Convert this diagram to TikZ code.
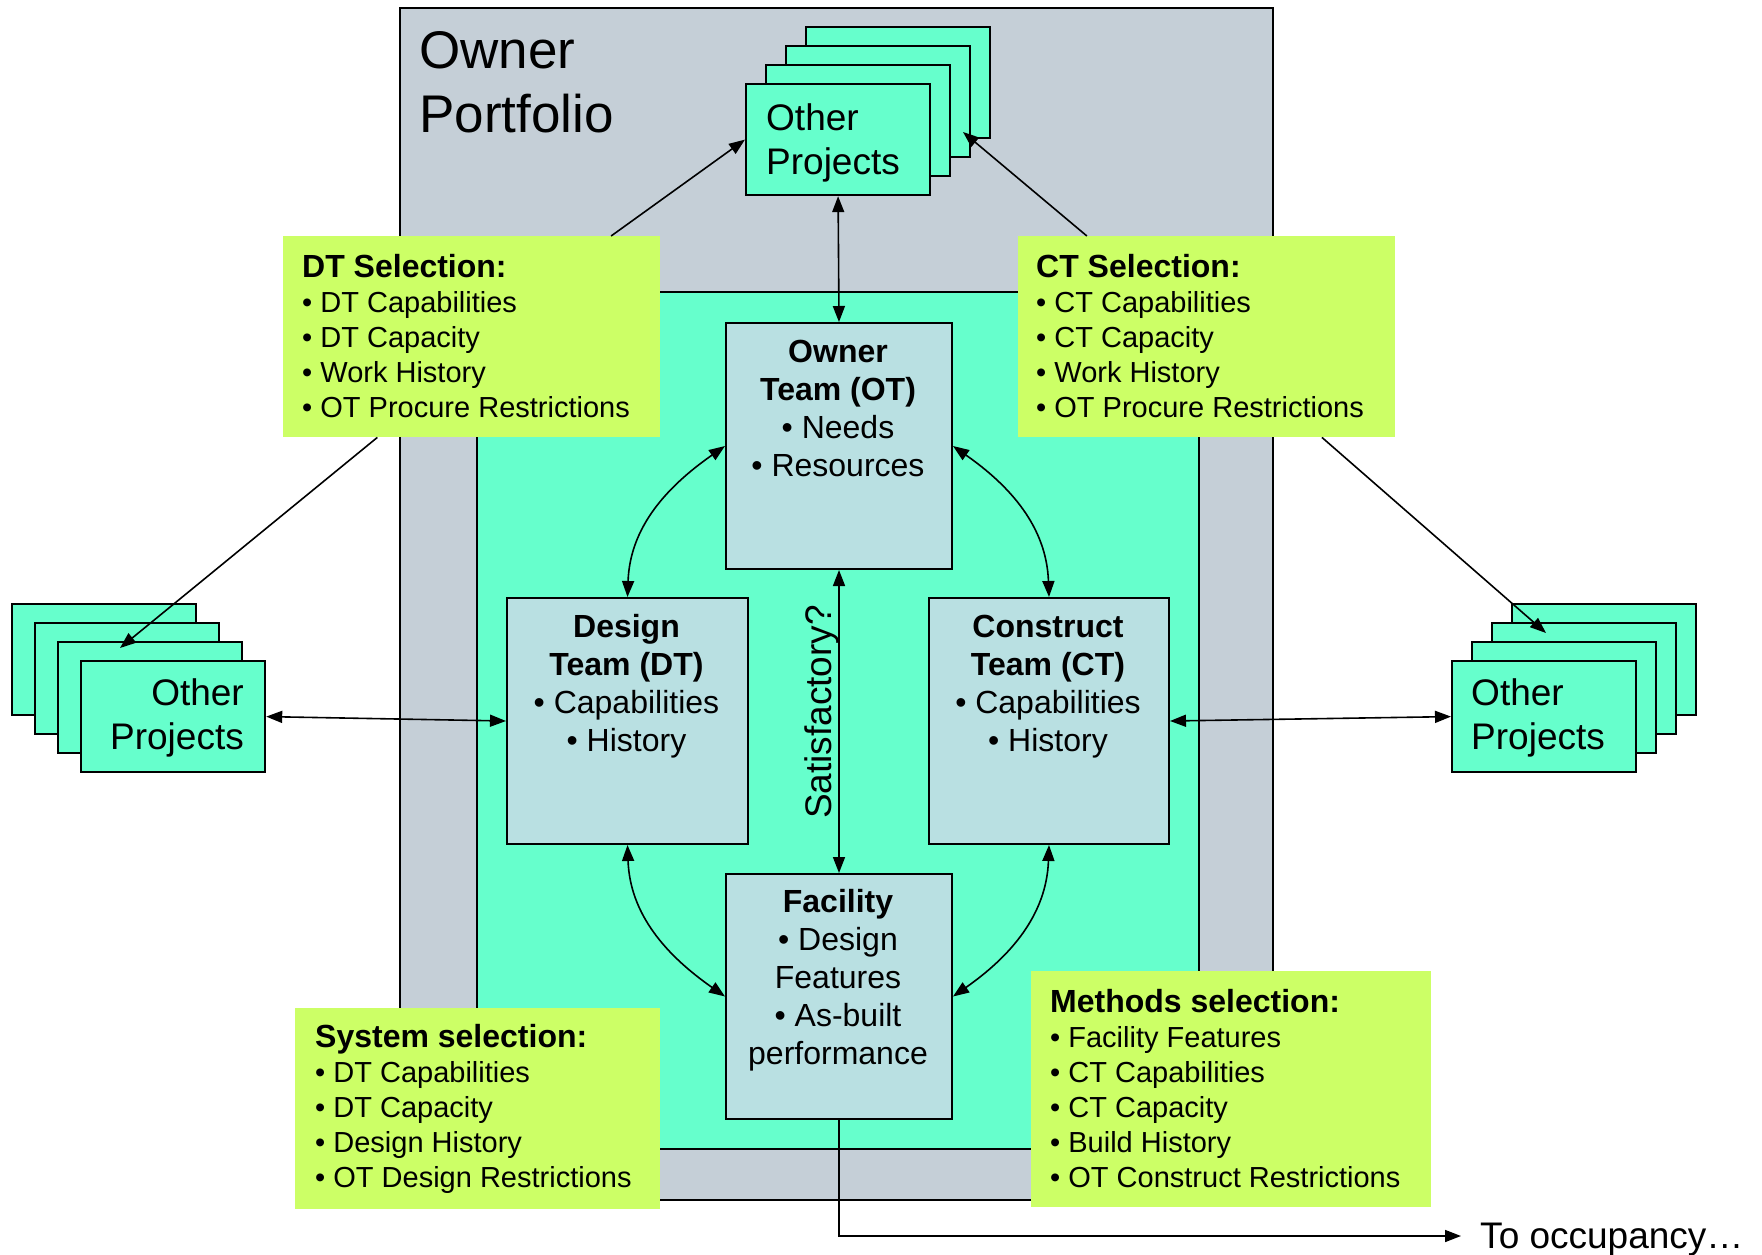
\documentclass[tikz,border=0pt]{standalone}
\usepackage{fontspec}
\setmainfont{Liberation Sans}
\usetikzlibrary{arrows.meta,calc}
\definecolor{pgray}{RGB}{197,207,215}
\definecolor{pteal}{RGB}{102,255,204}
\definecolor{pblue}{RGB}{185,224,226}
\definecolor{pyellow}{RGB}{204,255,102}
\newcommand{\seltitle}[1]{{\fontsize{32}{35}\selectfont\bfseries #1}}
\begin{document}
\begin{tikzpicture}[x=1pt,y=1pt,
  arr/.style={line width=1.6pt,-{Triangle[length=16pt,width=12pt]}},
  dbl/.style={line width=1.6pt,{Triangle[length=16pt,width=12pt]}-{Triangle[length=16pt,width=12pt]}},
  proj/.style={draw=black,line width=2.2pt,fill=pteal,minimum width=184pt,minimum height=111pt,inner sep=0pt,anchor=north west},
  team/.style={draw=black,line width=2pt,fill=pblue,minimum height=246pt,inner sep=0pt,anchor=north west},
  sel/.style={fill=pyellow,inner sep=0pt,anchor=north west},
  teamtxt/.style={inner sep=0pt,anchor=north,align=center,font=\fontsize{32}{38}\selectfont},
  seltxt/.style={inner sep=0pt,anchor=north west,align=left,font=\fontsize{29}{35}\selectfont},
  projtxt/.style={inner sep=0pt,font=\fontsize{37}{44}\selectfont},
]
\useasboundingbox (0,0) rectangle (1762,-1255);

% portfolio and project frames
\node[draw=black,line width=2pt,fill=pgray,minimum width=873pt,minimum height=1192pt,inner sep=0pt,anchor=north west] (port) at (399,-7) {};
\node[draw=black,line width=1.5pt,fill=pteal,minimum width=722pt,minimum height=857pt,inner sep=0pt,anchor=north west] (core) at (476,-291) {};
\node[inner sep=0pt,anchor=north west,align=left,font=\fontsize{53}{64}\selectfont] (porttitle) at (419,-23.2) {\strut Owner\\Portfolio};

% top stack of other projects
\node[proj] (opT4) at (805,-26) {};
\node[proj] (opT3) at (785,-45) {};
\node[proj] (opT2) at (765,-64) {};
\node[proj] (opT1) at (745,-83) {};
\node[projtxt,anchor=north west,align=left] (opTt) at (766,-99.2) {\strut Other\\Projects};

% left stack
\node[proj] (opL4) at (11,-603) {};
\node[proj] (opL3) at (34,-622) {};
\node[proj] (opL2) at (57,-641) {};
\node[proj] (opL1) at (80,-660) {};
\node[projtxt,anchor=north east,align=right] (opLt) at (244,-674.2) {\strut Other\\Projects};

% right stack
\node[proj] (opR4) at (1511,-603) {};
\node[proj] (opR3) at (1491,-622) {};
\node[proj] (opR2) at (1471,-641) {};
\node[proj] (opR1) at (1451,-660) {};
\node[projtxt,anchor=north west,align=left] (opRt) at (1471,-674.2) {\strut Other\\Projects};

% team boxes
\node[team,minimum width=226pt] (ot) at (725,-322) {};
\node[teamtxt] (ott) at (838,-335.4) {\strut\textbf{Owner}\\\textbf{Team (OT)}\\• Needs\\• Resources};
\node[team,minimum width=241pt] (dt) at (506,-597) {};
\node[teamtxt] (dtt) at (626.5,-610.4) {\strut\textbf{Design}\\\textbf{Team (DT)}\\• Capabilities\\• History};
\node[team,minimum width=240pt] (ct) at (928,-597) {};
\node[teamtxt] (ctt) at (1048,-610.4) {\strut\textbf{Construct}\\\textbf{Team (CT)}\\• Capabilities\\• History};
\node[team,minimum width=226pt,minimum height=245pt] (fac) at (725,-873) {};
\node[teamtxt] (fact) at (838,-885.4) {\strut\textbf{Facility}\\• Design\\Features\\• As-built\\performance};

% selection boxes
\node[sel,minimum width=377pt,minimum height=201pt] (dtsel) at (283,-236) {};
\node[seltxt] (dtselt) at (302,-252.5) {\strut\seltitle{DT Selection:}\\• DT Capabilities\\• DT Capacity\\• Work History\\• OT Procure Restrictions};
\node[sel,minimum width=377pt,minimum height=201pt] (ctsel) at (1018,-236) {};
\node[seltxt] (ctselt) at (1036,-252.5) {\strut\seltitle{CT Selection:}\\• CT Capabilities\\• CT Capacity\\• Work History\\• OT Procure Restrictions};
\node[sel,minimum width=365pt,minimum height=201pt] (syssel) at (295,-1008) {};
\node[seltxt] (sysselt) at (315,-1022.5) {\strut\seltitle{System selection:}\\• DT Capabilities\\• DT Capacity\\• Design History\\• OT Design Restrictions};
\node[sel,minimum width=400pt,minimum height=236pt] (metsel) at (1031,-971) {};
\node[seltxt] (metselt) at (1050,-987.5) {\strut\seltitle{Methods selection:}\\• Facility Features\\• CT Capabilities\\• CT Capacity\\• Build History\\• OT Construct Restrictions};

% labels
\node[rotate=90,anchor=base,inner sep=0pt,font=\fontsize{37}{44}\selectfont] (sat) at (831,-712) {Satisfactory?};
\node[anchor=base west,inner sep=0pt,font=\fontsize{37}{44}\selectfont] (occ) at (1480,-1248) {To occupancy…};

% free ends
\coordinate (tipT) at (963,-132);
\coordinate (tipL) at (120,-648);
\coordinate (tipR) at (1546,-633);

% connectors
\draw[dbl] (opT1.south) -- (ot.north);
\draw[dbl] (ot.south) -- (fac.north);
\draw[dbl] (dt.north) to[out=88,in=215] (ot.west);
\draw[dbl] (ot.east) to[out=-35,in=92] (ct.north);
\draw[dbl] (dt.south) to[out=-88,in=145] (fac.west);
\draw[dbl] (ct.south) to[out=-92,in=35] (fac.east);
\draw[dbl] (opL1.east) -- (dt.west);
\draw[dbl] (ct.east) -- (opR1.west);
\draw[arr] (dtsel) -- (opT1.west);
\draw[arr] ($(dtsel.south west)!0.25!(dtsel.south east)$) -- (tipL);
\draw[arr] (ctsel) -- (tipT);
\draw[arr] (ctsel) -- (tipR);
\draw[arr] (fac.south) |- ($(occ.base west)+(-19,12)$);
\end{tikzpicture}
\end{document}
